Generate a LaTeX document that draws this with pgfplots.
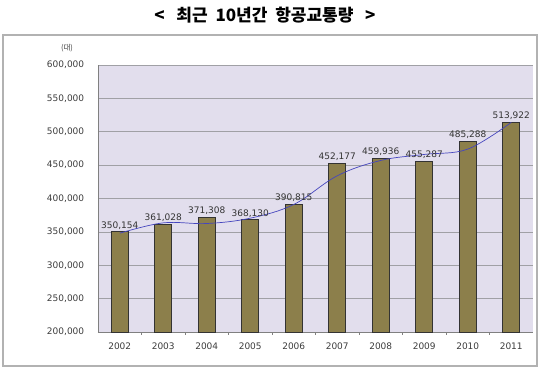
\documentclass[border=0pt]{standalone}
\usepackage{pgfplots}
\pgfplotsset{compat=1.18}
\usepackage{fontspec}
\setmainfont{DejaVu Sans}
\newfontfamily\kr{Noto Sans CJK KR}
\definecolor{bgc}{RGB}{226,222,237}
\definecolor{barc}{RGB}{140,127,75}
\definecolor{gridc}{RGB}{160,160,165}
\definecolor{linec}{RGB}{70,70,190}
\definecolor{txt}{RGB}{60,60,60}
\begin{document}
\begin{tikzpicture}[x=1pt,y=1pt]
\useasboundingbox (-98,-39) rectangle (452,332);
\draw[gray!60, line width=1.2pt] (-95,-34) rectangle (439,297);
\node[font=\kr\bfseries\fontsize{17}{18}\selectfont] at (167,317) {<\ \ \ 최근\ \ 10년간\ \ 항공교통량\ \ \ >};
\node[font=\kr\fontsize{7.5}{8}\selectfont, text=txt] at (-31,284) {(대)};
\begin{axis}[
  at={(0,0)}, anchor=south west,
  scale only axis, width=435pt, height=267pt,
  xmin=-0.5, xmax=9.5, ymin=200000, ymax=600000,
  axis background/.style={fill=bgc},
  xtick={0,...,9},
  xticklabels={2002,2003,2004,2005,2006,2007,2008,2009,2010,2011},
  minor xtick={0.5,1.5,...,8.5},
  major x tick style={draw=none},
  minor x tick style={gray, thin},
  minor tick length=3pt,
  tick align=outside,
  ytick={200000,250000,...,600000},
  ytick style={draw=none},
  ymajorgrids, grid style={gridc, line width=0.6pt},
  axis x line*=bottom, axis y line*=left,
  axis line style={gray, line width=0.8pt},
  scaled y ticks=false,
  /pgf/number format/.cd, 1000 sep={,}, fixed, precision=0, assume math mode=true,
  /pgfplots/.cd,
  tick label style={font=\fontsize{9}{10}\selectfont, text=txt},
  yticklabel style={xshift=-6pt},
  xticklabel style={yshift=-3pt},
  clip=false,
]
\addplot[ybar, bar width=17pt, fill=barc, draw=black!80, line width=0.7pt,
  nodes near coords,
  every node near coord/.append style={font=\fontsize{9}{10}\selectfont, text=black!80, yshift=-1pt}]
  coordinates {(0,350154) (1,361028) (2,371308) (3,368130) (4,390815) (5,452177) (6,459936) (7,455287) (8,485288) (9,513922)};
\addplot[smooth, linec, line width=0.7pt, tension=0.6]
  coordinates {(0,348000) (1,363500) (2,362500) (3,370500) (4,391000) (5,434000) (6,457000) (7,466000) (8,474000) (9,514000)};
\end{axis}
\end{tikzpicture}
\end{document}
